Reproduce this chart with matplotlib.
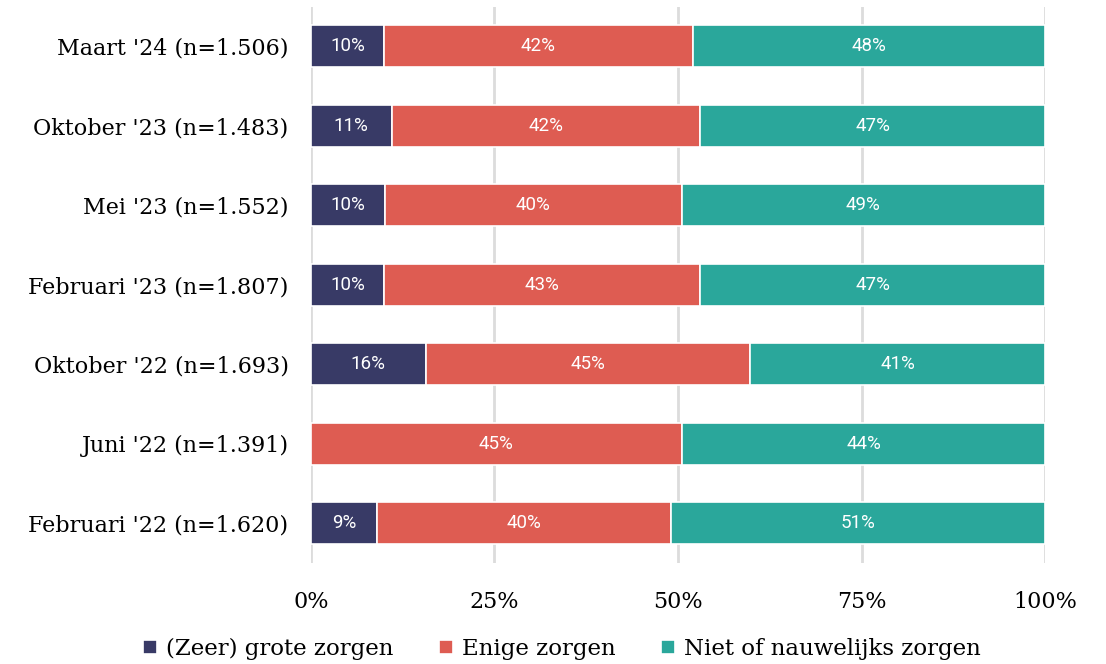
import matplotlib
matplotlib.use("Agg")
import matplotlib.pyplot as plt
import numpy as np

# gegevens (van boven naar beneden)
labels = ["Maart '24 (n=1.506)", "Oktober '23 (n=1.483)", "Mei '23 (n=1.552)",
          "Februari '23 (n=1.807)", "Oktober '22 (n=1.693)", "Juni '22 (n=1.391)",
          "Februari '22 (n=1.620)"]
grote = [10, 11, 10, 10, 16, 0, 9]
enige = [42, 42, 40, 43, 45, 45, 40]
niet = [48, 47, 49, 47, 41, 44, 51]

series = ["(Zeer) grote zorgen", "Enige zorgen", "Niet of nauwelijks zorgen"]
colors = ["#383a66", "#de5c52", "#2aa79b"]

serif = ["DejaVu Serif"]
sans = ["Roboto", "DejaVu Sans"]

fig = plt.figure(figsize=(11.06, 6.64), dpi=100)
ax = fig.add_axes([0.281, 0.152, 0.664, 0.838])

data = np.array([grote, enige, niet], dtype=float)
totals = data.sum(axis=0)
shares = data / totals * 100
y = np.arange(len(labels))
left = np.zeros(len(labels))
for i in range(3):
    bars = ax.barh(y, shares[i], left=left, height=0.53, color=colors[i],
                   edgecolor="white", linewidth=1.2, label=series[i], zorder=3)
    for j, b in enumerate(bars):
        if data[i, j] > 0:
            ax.text(left[j] + shares[i, j] / 2, y[j], f"{int(data[i, j])}%",
                    ha="center", va="center", color="white", fontsize=13.5,
                    family=sans, zorder=4)
    left += shares[i]

ax.set_ylim(len(labels) - 0.5, -0.5)
ax.set_xlim(0, 100)
ax.set_yticks(y)
ax.set_yticklabels(labels, family=serif, fontsize=16)
ax.set_xticks([0, 25, 50, 75, 100])
ax.set_xticklabels(["0%", "25%", "50%", "75%", "100%"], family=serif, fontsize=16)
ax.tick_params(length=0)
ax.tick_params(axis="y", pad=16)
ax.tick_params(axis="x", pad=20)
ax.grid(axis="x", color="#dcdcdc", linewidth=2, zorder=0)
for s in ax.spines.values():
    s.set_visible(False)

fig.legend(loc="lower center", bbox_to_anchor=(0.508, -0.025), ncol=3, frameon=False,
           prop={"family": serif, "size": 16.5}, handlelength=0.6, handleheight=0.6,
           handletextpad=0.4, columnspacing=2.0)

fig.savefig("out.png", dpi=100)
